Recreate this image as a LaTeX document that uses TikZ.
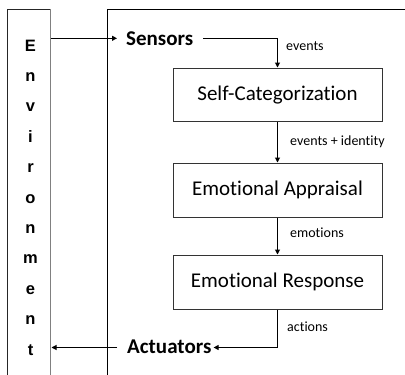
\documentclass[tikz,border=0pt]{standalone}
\usepackage{fontspec}
\setmainfont{Carlito}[Ligatures=NoCommon]
\newfontfamily\envfont{Liberation Sans}
\usetikzlibrary{arrows.meta}
\begin{document}
\begin{tikzpicture}[x=1pt,y=-1pt,
  line/.style={draw=black,line width=1pt},
  conn/.style={line,-{Triangle[length=5pt,width=5pt]}},
  stage/.style={draw=black!80,line width=1pt,minimum width=209pt,inner sep=0pt,font=\fontsize{21}{25}\selectfont},
  big/.style={inner sep=0pt,font=\fontsize{21}{25}\selectfont\bfseries},
  lab/.style={inner sep=0pt,font=\fontsize{14}{17}\selectfont},
  envletter/.style={inner sep=0pt,font=\envfont\fontsize{16.5}{19}\selectfont\bfseries}]
\useasboundingbox (0,0) rectangle (405,375);
% environment column (open at the bottom)
\draw[line,draw=black!85] (7.5,375) -- (7.5,9.3) -- (50.7,9.3);
\draw[line,draw=black!50] (50.7,9.3) -- (50.7,375);
% agent frame
\draw[line] (107,375) -- (107,9.3) -- (405,9.3);
% letters
\foreach \l [count=\i from 0] in {E,n,v,i,r,o,n,m,e,n,t}
  \node[envletter,anchor=base] (env\i) at (30.5,51+30.4*\i) {\l};
\coordinate (envIn) at (51,38.3);
\coordinate (envOut) at (51.5,347.5);
% texts
\node[big,anchor=base west] (sensors) at (126,45) {Sensors};
\node[big,anchor=base west] (act) at (127,353.3) {Actuators};
\node[stage,minimum height=53.5pt] (sc) at (277.5,94.75) {Self-Categorization};
\node[stage,minimum height=54pt] (ea) at (277.5,190) {Emotional Appraisal};
\node[stage,minimum height=54pt] (er) at (277.5,282) {Emotional Response};
\node[lab,anchor=base west] (l1) at (286,50) {events};
\node[lab,anchor=base west] (l2) at (290,145) {events + identity};
\node[lab,anchor=base west] (l3) at (290,237.5) {emotions};
\node[lab,anchor=base west] (l4) at (287,331.5) {actions};
% connectors
\draw[conn] (envIn) -- ([xshift=-9pt]sensors.west |- envIn);
\draw[conn] ([xshift=10pt]sensors.east |- envIn) -| (sc.north);
\draw[conn] (sc.south) -- (ea.north);
\draw[conn] (ea.south) -- (er.north);
\draw[conn] (er.south) |- ([xshift=2pt]act.east |- envOut);
\draw[conn] ([xshift=-10pt]act.west |- envOut) -- (envOut);
\end{tikzpicture}
\end{document}
